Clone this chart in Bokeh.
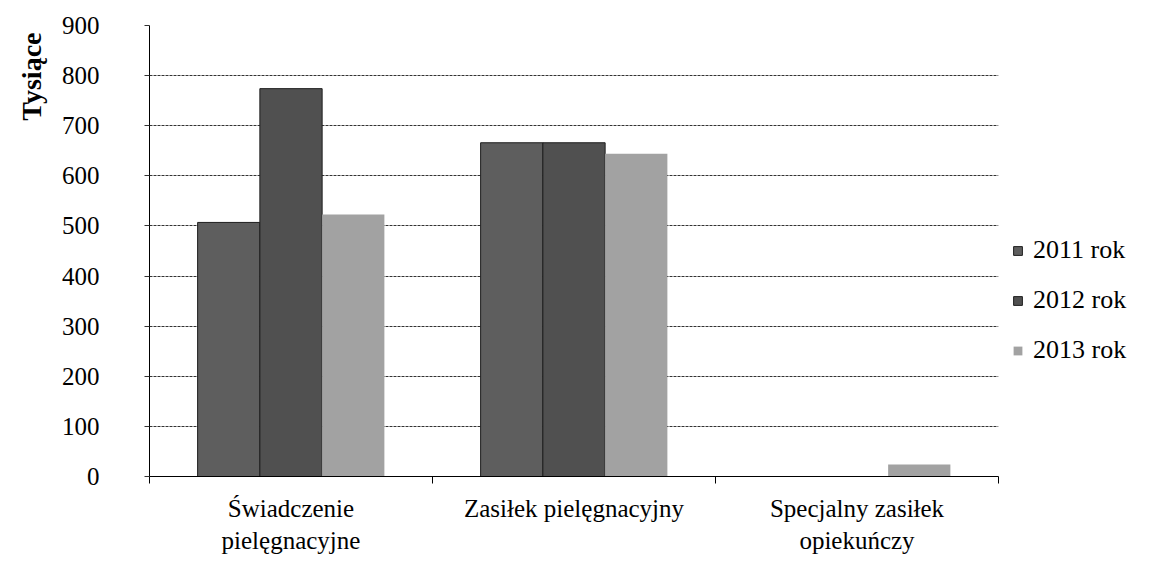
from bokeh.plotting import figure
from bokeh.models import (Range1d, LinearAxis, FixedTicker, Legend, LegendItem, ColumnDataSource, Title)
from bokeh.embed import file_html
from bokeh.resources import INLINE

categories = ["Świadczenie pielęgnacyjne", "Zasiłek pielęgnacyjny", "Specjalny zasiłek opiekuńczy"]
category_labels = ["Świadczenie\npielęgnacyjne", "Zasiłek pielęgnacyjny", "Specjalny zasiłek\nopiekuńczy"]
series_names = ["2011 rok", "2012 rok", "2013 rok"]
v2011 = [507, 666, 0]
v2012 = [774, 666, 0]
v2013 = [523, 644, 24]
y_ticks = [0, 100, 200, 300, 400, 500, 600, 700, 800, 900]
y_label = "Tysiące"

colors = ["#5e5e5e", "#505050", "#a2a2a2"]
outlines = ["#1e1e1e", "#1e1e1e", None]
FONT = "Liberation Serif"
BAR_W = 0.22
offsets = [-BAR_W, 0.0, BAR_W]

n = len(categories)
centers = [i + 0.5 for i in range(n)]
bounds = list(range(n + 1))

p = figure(x_range=Range1d(0, n), y_range=Range1d(0, 900),
           frame_width=849, frame_height=451,
           min_border_left=149, min_border_right=161, min_border_top=25, min_border_bottom=80,
           output_backend="svg", toolbar_location=None, x_axis_location=None,
           background_fill_color="white", border_fill_color="white", outline_line_color=None)

renderers = []
for i, vals in enumerate([v2011, v2012, v2013]):
    src = ColumnDataSource(dict(x=[c + offsets[i] for c in centers], top=vals))
    r = p.vbar(x="x", top="top", width=BAR_W, source=src,
               fill_color=colors[i], line_color=outlines[i], line_width=1)
    renderers.append(r)

# y axis
ya = p.yaxis[0]
ya.ticker = FixedTicker(ticks=y_ticks)
ya.major_label_text_font = FONT
ya.major_label_text_font_size = "25px"
ya.major_label_text_color = "black"
ya.major_label_standoff = 45
ya.major_tick_out = 5
ya.major_tick_in = 0
ya.minor_tick_line_color = None
ya.axis_line_color = "black"
ya.major_tick_line_color = "#333333"

p.add_layout(Title(text=y_label, align="right", offset=7, text_font=FONT, text_font_style="bold",
                   text_font_size="28px", text_color="black", standoff=24), "left")

p.xgrid.grid_line_color = None
p.ygrid.ticker = FixedTicker(ticks=y_ticks)
p.ygrid.grid_line_color = "#333333"
p.ygrid.grid_line_dash = "3 1"
p.ygrid.grid_line_width = 1

# category axis: labels at centers, ticks at category boundaries
cax = LinearAxis(ticker=FixedTicker(ticks=centers, minor_ticks=bounds),
                 axis_line_color="black", major_tick_line_color=None, major_tick_out=0,
                 major_tick_in=0, minor_tick_line_color="black", minor_tick_out=7, minor_tick_in=0,
                 major_label_standoff=11,
                 major_label_text_font=FONT, major_label_text_font_size="25px",
                 major_label_text_color="black", major_label_text_line_height=1.2,
                 major_label_overrides={c: lab for c, lab in zip(centers, category_labels)})
p.add_layout(cax, "below")

legend = Legend(items=[LegendItem(label=series_names[i], renderers=[renderers[i]]) for i in range(3)],
                location=(14, 111), glyph_width=11, glyph_height=11, label_standoff=10,
                label_text_font=FONT, label_text_font_size="26px", label_text_color="black",
                label_height=30, spacing=20, padding=0, margin=0,
                border_line_color=None, background_fill_alpha=0)
p.add_layout(legend, "right")

open("out.html", "w").write(file_html(p, INLINE))
